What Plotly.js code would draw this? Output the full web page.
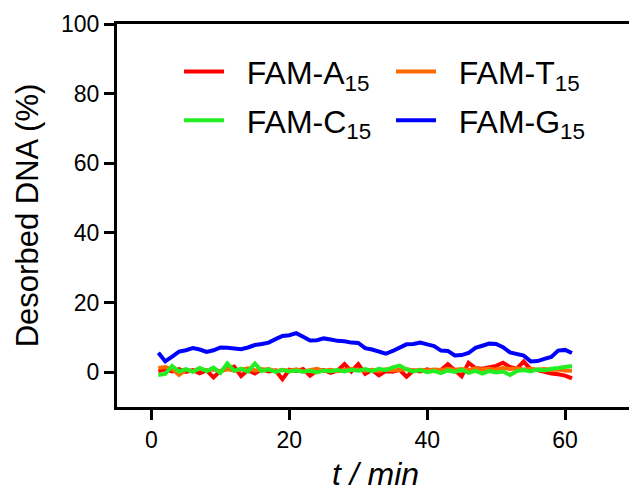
<!DOCTYPE html>
<html>
<head>
<meta charset="utf-8">
<script src="https://cdn.plot.ly/plotly-3.0.1.min.js"></script>
<style>
html,body{margin:0;padding:0;overflow:hidden;background:#fff;width:629px;height:493px;}
#chart{width:660px;height:493px;}
</style>
</head>
<body>
<div id="chart"></div>
<script>
// time (min)
var time = [];
for (var i = 1; i <= 61; i++) time.push(i);

var seriesNames = ["FAM-A<sub>15</sub>", "FAM-T<sub>15</sub>", "FAM-C<sub>15</sub>", "FAM-G<sub>15</sub>"];

var famA15 = [0.3,0.8,0.2,0.9,0.1,0.6,-0.3,0.5,-1.5,0.4,0.9,1.6,-1.1,0.6,-0.4,0.8,0.2,0.5,-2.0,0.7,
              0.3,0.9,-1.0,0.4,0.6,-0.2,0.5,2.3,0.2,2.3,-0.5,0.6,-0.9,0.3,0.1,0.7,-1.3,0.5,0.2,0.8,
              0.3,0.6,2.3,0.4,-1.2,2.7,1.2,1.0,1.4,1.8,2.7,1.5,1.0,3.1,0.8,0.6,0.1,-0.4,-0.6,-1.0,-1.8];
var famT15 = [1.2,1.5,0.9,-0.8,0.7,0.3,1.0,0.5,0.8,0.2,0.9,0.4,0.7,1.1,0.5,0.6,0.9,0.3,0.7,0.4,
              0.8,0.2,0.6,1.0,0.4,0.7,0.3,0.5,0.9,0.6,0.4,0.7,0.3,0.8,0.5,0.6,0.9,0.4,0.7,0.5,
              0.8,0.6,1.0,0.7,0.9,0.6,1.1,0.8,1.0,0.7,1.2,0.9,1.1,0.8,1.0,0.7,0.9,0.6,0.8,0.5,0.4];
var famC15 = [-0.8,-0.5,1.8,0.2,0.9,0.1,1.2,0.3,1.3,-0.2,2.5,0.4,1.0,0.2,2.5,0.3,0.8,0.1,0.6,0.2,
              0.5,0.1,0.4,-0.1,0.5,0.3,0.6,0.2,0.7,0.4,0.9,0.3,1.0,0.6,1.4,1.9,0.8,0.2,0.6,0.0,
              0.4,-0.3,0.5,0.1,0.7,-0.2,0.4,-0.4,0.3,-0.1,0.2,-0.8,0.3,0.6,0.2,0.8,0.5,1.0,1.2,1.5,1.8];
var famG15 = [5.6,3.1,4.5,5.9,6.3,6.9,6.5,5.8,6.3,7.1,7.0,6.8,6.6,7.1,7.8,8.1,8.5,9.5,10.4,10.6,
              11.2,10.2,9.1,9.2,9.7,9.4,9.0,8.9,8.5,8.4,6.9,6.5,5.9,5.3,6.1,7.0,8.0,8.1,8.5,8.0,
              7.5,6.2,6.1,4.8,4.9,5.5,7.0,7.6,8.2,8.1,7.2,5.7,5.1,4.8,3.1,3.2,3.8,4.4,6.2,6.4,5.5];

var xTicks = [0, 20, 40, 60];
var yTicks = [0, 20, 40, 60, 80, 100];

var colors = ["#ff0000", "#ff6a00", "#22ee22", "#0000ff"];

function tr(y, k, leg) {
  return {
    x: time, y: y, type: "scatter", mode: "lines",
    name: "\u00a0\u00a0" + seriesNames[k], legend: leg, legendgroup: "g" + k,
    line: {color: colors[k], width: 4}
  };
}

var data = [
  tr(famA15, 0, "legend"),
  tr(famT15, 1, "legend2"),
  tr(famC15, 2, "legend"),
  tr(famG15, 3, "legend2")
];

var legFont = {family: "Liberation Sans, Arial, sans-serif", size: 32, color: "#000"};

var layout = {
  width: 660, height: 493,
  margin: {l: 117, r: 26, t: 24, b: 85.5},
  paper_bgcolor: "#fff", plot_bgcolor: "#fff",
  font: {family: "Liberation Sans, Arial, sans-serif", color: "#000"},
  showlegend: true,
  xaxis: {
    range: [-5, 70], tickvals: xTicks, ticktext: xTicks.map(String),
    showgrid: false, zeroline: false,
    showline: true, linecolor: "#000", linewidth: 3, mirror: true,
    ticks: "outside", ticklen: 10, tickwidth: 3, tickcolor: "#000",
    tickfont: {size: 23, color: "#000"},
    title: {text: "<i>t / min</i>", font: {size: 32, color: "#000"}, standoff: 12}
  },
  yaxis: {
    range: [-10, 100], tickvals: yTicks, ticktext: yTicks.map(String),
    showgrid: false, zeroline: false,
    showline: true, linecolor: "#000", linewidth: 3, mirror: true,
    ticks: "outside", ticklen: 10, tickwidth: 3, tickcolor: "#000",
    tickfont: {size: 23, color: "#000"},
    title: {text: "Desorbed DNA (%)", font: {size: 31, color: "#000"}, standoff: 14}
  },
  legend: {
    x: 0.12, y: 0.947, xanchor: "left", yanchor: "top",
    bgcolor: "rgba(0,0,0,0)", borderwidth: 0,
    font: legFont, itemwidth: 40, tracegroupgap: 4, traceorder: "grouped"
  },
  legend2: {
    x: 0.53, y: 0.947, xanchor: "left", yanchor: "top",
    bgcolor: "rgba(0,0,0,0)", borderwidth: 0,
    font: legFont, itemwidth: 40, tracegroupgap: 4, traceorder: "grouped"
  }
};

Plotly.newPlot("chart", data, layout, {displayModeBar: false, staticPlot: true});
</script>
</body>
</html>
